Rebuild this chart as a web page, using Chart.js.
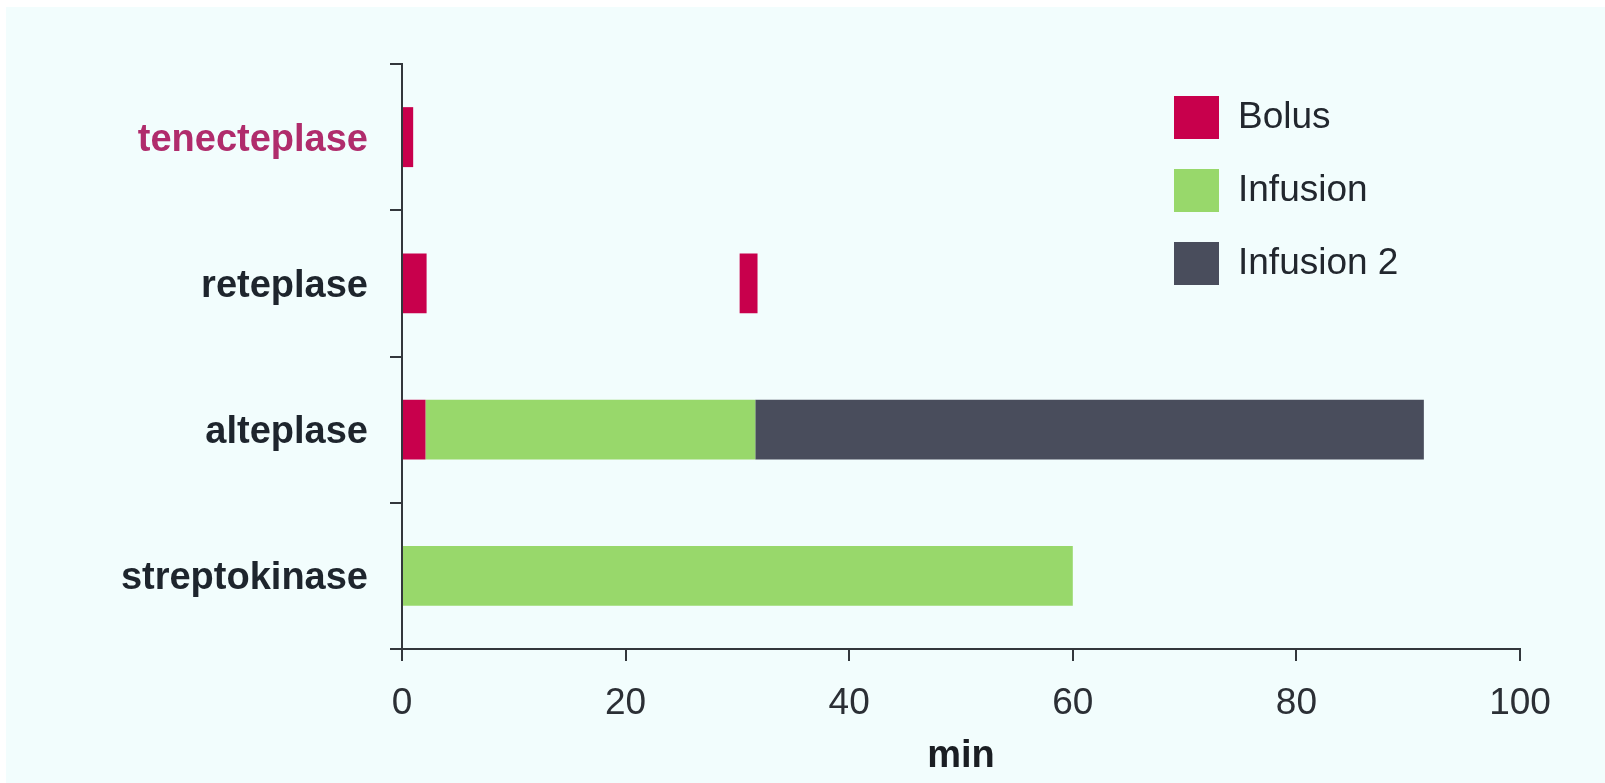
<html>
  <head>
    <script src="https://cdn.jsdelivr.net/npm/chart.js@4/dist/chart.umd.min.js" type="text/javascript"></script>
    <style>
      body { margin: 0; background: #ffffff; }
    </style>
  </head>
  <body>
    <canvas id="regimens" width="1605" height="783"></canvas>

    <script>
      // drug regimens, minutes from start
      var categories = ['tenecteplase', 'reteplase', 'alteplase', 'streptokinase'];
      var categoryColors = ['#b02c6c', '#1e252d', '#1e252d', '#1e252d'];

      var bolus = [[0, 1], [0, 2.2], [0, 2.1], null];
      var secondBolus = [null, [30.2, 31.8], null, null];
      var infusion = [null, null, [2.1, 31.6], [0, 60]];
      var infusion2 = [null, null, [31.6, 91.4], null];

      var xMin = 0, xMax = 100, xStep = 20;

      var font = 'Liberation Sans, Arial, Helvetica, sans-serif';

      var background = {
        id: 'background',
        beforeDraw: function (chart) {
          var c = chart.ctx;
          c.save();
          c.fillStyle = '#ffffff';
          c.fillRect(0, 0, chart.width, chart.height);
          c.fillStyle = '#f2fdfd';
          c.fillRect(6, 7, chart.width - 6, chart.height - 7);
          c.restore();
        }
      };

      // legend sits inside the plot, top right
      var boxLegend = {
        id: 'boxLegend',
        afterDraw: function (chart) {
          var c = chart.ctx;
          var x = 1174, y = 96, row = 73;
          c.save();
          c.font = '37px ' + font;
          c.textBaseline = 'middle';
          chart.data.datasets
            .filter(function (ds) { return !ds.noLegend; })
            .forEach(function (ds, i) {
              c.fillStyle = ds.backgroundColor;
              c.fillRect(x, y + i * row, 45, 43);
              c.fillStyle = '#22272e';
              c.fillText(ds.label, x + 64, y + i * row + 22);
            });
          c.restore();
        }
      };

      var ctx = document.getElementById('regimens').getContext('2d');

      var chart = new Chart(ctx, {
        type: 'bar',
        data: {
          labels: categories,
          datasets: [
            { label: 'Bolus', data: bolus, backgroundColor: '#c8004c' },
            { label: 'Bolus', data: secondBolus, backgroundColor: '#c8004c', noLegend: true },
            { label: 'Infusion', data: infusion, backgroundColor: '#98d86b' },
            { label: 'Infusion 2', data: infusion2, backgroundColor: '#494d5c' }
          ]
        },
        options: {
          indexAxis: 'y',
          responsive: false,
          animation: false,
          grouped: false,
          categoryPercentage: 0.82,
          barPercentage: 0.5,
          layout: { padding: { top: 64, right: 85, bottom: 0, left: 0 } },
          plugins: {
            legend: { display: false },
            tooltip: { enabled: false }
          },
          scales: {
            x: {
              type: 'linear',
              min: xMin,
              max: xMax,
              ticks: { stepSize: xStep, color: '#2b2f35', padding: 21, font: { family: font, size: 37 } },
              grid: { drawOnChartArea: false, tickLength: 12, color: '#33373c', lineWidth: 2 },
              border: { color: '#33373c', width: 2 },
              title: {
                display: true,
                text: 'min',
                color: '#1a1e23',
                font: { family: font, size: 38, weight: 'bold' },
                padding: { top: 0, bottom: 4 }
              },
              afterFit: function (scale) { scale.height = 134; }
            },
            y: {
              type: 'category',
              offset: true,
              ticks: {
                color: function (c) { return categoryColors[c.index]; },
                padding: 22,
                labelOffset: 3,
                font: { family: font, size: 38, weight: 'bold' }
              },
              grid: { drawOnChartArea: false, offset: true, tickLength: 12, color: '#33373c', lineWidth: 2 },
              border: { color: '#33373c', width: 2 },
              afterFit: function (scale) { scale.width = 402; }
            }
          }
        },
        plugins: [background, boxLegend]
      });
    </script>
  </body>
</html>
